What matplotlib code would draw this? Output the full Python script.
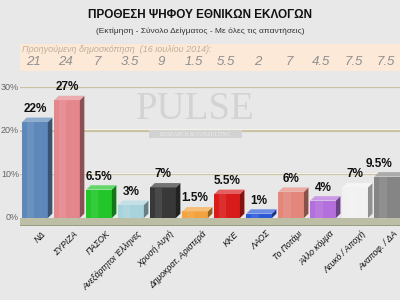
import matplotlib
matplotlib.use("Agg")
import matplotlib.pyplot as plt
from matplotlib.patches import Polygon, Rectangle
import matplotlib.transforms as mtransforms
import numpy as np

parties = ["ΝΔ", "ΣΥΡΙΖΑ", "ΠΑΣΟΚ", "Ανεξάρτητοι Έλληνες", "Χρυσή Αυγή",
           "Δημοκρατ. Αριστερά", "ΚΚΕ", "ΛΑΟΣ", "Το Ποτάμι", "Άλλο κόμμα",
           "Λευκό / Αποχή", "Αναποφ. / ΔΑ"]
values = [22, 27, 6.5, 3, 7, 1.5, 5.5, 1, 6, 4, 7, 9.5]
value_labels = ["22%", "27%", "6.5%", "3%", "7%", "1.5%", "5.5%", "1%", "6%", "4%", "7%", "9.5%"]
previous = ["21", "24", "7", "3.5", "9", "1.5", "5.5", "2", "7", "4.5", "7.5", "7.5"]
colors = ["#5d88b9", "#e4878d", "#22c62a", "#a9d3dc", "#383838", "#f2a23e",
          "#d81c1c", "#2b5ad8", "#e3877c", "#b36fdc", "#f1f1f1", "#858585"]
yticks = [0, 10, 20, 30]
ytick_labels = ["0%", "10%", "20%", "30%"]

plt.rcParams['font.family'] = ['Liberation Sans Narrow', 'Liberation Sans', 'DejaVu Sans']

fig = plt.figure(figsize=(4, 3), dpi=100)
fig.patch.set_facecolor("#e8e8e8")

# previous poll band (behind everything)
band_ax = fig.add_axes([20/400, (300-71)/300, 380/400, 27/300], zorder=-1)
band_ax.set_facecolor("#fde9d7")
band_ax.set_xticks([]); band_ax.set_yticks([])
for s in band_ax.spines.values():
    s.set_visible(False)

# axes: left x=20px, right 400px, bottom y=218px, top (30%) y=87px
ax = fig.add_axes([20/400, (300-218)/300, 380/400, (218-87)/300])
ax.set_facecolor("#e8e8e8")
ax.set_xlim(-0.47, 11.4)
ax.set_ylim(0, 30)
for s in ax.spines.values():
    s.set_visible(False)
ax.set_xticks([])
ax.set_yticks([])

# gridlines (shelf look)
for t in yticks[1:]:
    ax.axhline(t, color="#c9c2a2", lw=1.6, zorder=1)
    ax.axhline(t + 0.35, color="#f4f2ea", lw=0.8, zorder=1)

# y tick labels
for t, lab in zip(yticks, ytick_labels):
    ax.text(-0.5, t, lab, ha="right", va="center", fontsize=6.5,
            color="#666666", clip_on=False)

# floor
ax.add_patch(Rectangle((-0.47, -1.6), 12, 1.6, facecolor="#bcbfa6",
                       edgecolor="none", clip_on=False, zorder=2))
ax.add_patch(Rectangle((-0.47, -1.8), 12, 0.3, facecolor="#9a9c84",
                       edgecolor="none", clip_on=False, zorder=2))

# watermark
ax.text(5.0, 24.8, "PULSE", ha="center", va="center", fontsize=28,
        family="Liberation Serif", color="#d3d3d3", zorder=1.5)
ax.add_patch(Rectangle((3.55, 18.3), 2.9, 1.8, facecolor="#d2d2d2",
                       edgecolor="none", zorder=1.5))
ax.text(5.0, 19.2, "RESEARCH & CONSULTING", ha="center", va="center",
        fontsize=4.0, family="Liberation Serif", color="#eeeeee", zorder=1.6)

def shade(c, f):
    rgb = np.array(matplotlib.colors.to_rgb(c))
    if f < 1:
        return tuple(rgb * f)
    return tuple(rgb + (1 - rgb) * (f - 1))

w = 0.4
dx = 0.14
dy = 1.0
x = np.arange(len(values))
for xi, v, c, lab in zip(x, values, colors, value_labels):
    ax.bar(xi, v, width=2 * w, color=c, edgecolor="none", zorder=3)
    ax.bar(xi - w * 0.35, v, width=w * 0.6, color=shade(c, 1.15),
           edgecolor="none", zorder=3.1, alpha=0.6)
    side = Polygon([[xi + w, 0], [xi + w + dx, dy], [xi + w + dx, v + dy], [xi + w, v]],
                   closed=True, facecolor=shade(c, 0.6), edgecolor="none", zorder=3)
    ax.add_patch(side)
    top = Polygon([[xi - w, v], [xi - w + dx, v + dy], [xi + w + dx, v + dy], [xi + w, v]],
                  closed=True, facecolor=shade(c, 1.3), edgecolor="none", zorder=3)
    ax.add_patch(top)
    ax.text(min(xi, 10.75), v + dy + 0.6, lab, ha="center", va="bottom",
            fontsize=8.5, fontweight="bold", color="#111111", zorder=4,
            clip_on=False)

# x labels
for xi, p in zip(x, parties):
    ax.text(xi + 0.2, -2.6, p, ha="right", va="top", rotation=45,
            rotation_mode="anchor", fontsize=6.2, style="italic",
            color="#111111", clip_on=False)

fig.text(22/400, (300-50)/300, "Προηγούμενη δημοσκόπηση  (16 ιουλίου 2014):",
         ha="left", va="center", fontsize=6.5, style="italic", color="#c2ad98")
trans = mtransforms.blended_transform_factory(ax.transData, fig.transFigure)
for xi, p in zip(x, previous):
    ax.text(xi - 0.05, (300-62)/300, p, transform=trans, ha="center", va="center",
            fontsize=9.5, style="italic", color="#8f8f8f", clip_on=False)

# titles
fig.text(0.5, (300-15)/300, "ΠΡΟΘΕΣΗ ΨΗΦΟΥ ΕΘΝΙΚΩΝ ΕΚΛΟΓΩΝ", ha="center",
         va="center", fontsize=8.5, fontweight="bold", color="#111111")
fig.text(0.5, (300-31)/300, "(Εκτίμηση - Σύνολο Δείγματος - Με όλες τις απαντήσεις)",
         ha="center", va="center", fontsize=6, color="#333333")

fig.savefig("out.png", dpi=100, facecolor=fig.get_facecolor())
